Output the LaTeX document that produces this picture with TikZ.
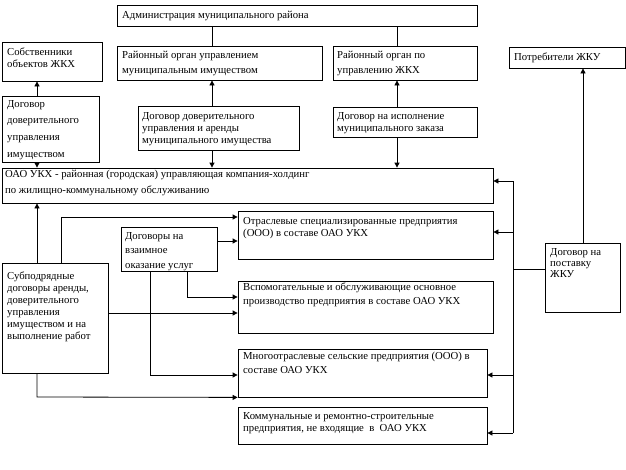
\documentclass[tikz,border=0pt]{standalone}
\usepackage{fontspec}
\setmainfont{Liberation Serif}
\usetikzlibrary{arrows.meta,fit}
\tikzset{
  box/.style={draw, line width=0.8pt, inner sep=0pt},
  txt/.style={inner sep=0pt, anchor=north west, align=left},
  fs/.style={font=\fontsize{10.7}{#1}\selectfont},
  ln/.style={line width=0.8pt},
  arr/.style={line width=0.8pt, -{Triangle[length=5pt,width=5pt]}},
}
\begin{document}
\begin{tikzpicture}[x=1pt,y=-1pt]
\useasboundingbox (0,0) rectangle (626,469);
% boxes
\node[box, fit={(117,5)(477,26)}] (adm) {};
\node[box, fit={(2,42)(102,81)}] (sob) {};
\node[box, fit={(117,46)(322,80)}] (rum) {};
\node[box, fit={(333,46)(477,80)}] (rzh) {};
\node[box, fit={(509,47)(625,68)}] (pot) {};
\node[box, fit={(2,96)(99,162)}] (ddl) {};
\node[box, fit={(138,106)(299,150)}] (dda) {};
\node[box, fit={(333,107)(477,137)}] (dim) {};
\node[box, fit={(2,168)(493,203)}] (oao) {};
\node[box, fit={(238,211)(493,259)}] (otr) {};
\node[box, fit={(121,227)(217,271)}] (dvz) {};
\node[box, fit={(2,263)(108,373)}] (sub) {};
\node[box, fit={(238,281)(493,333)}] (vsp) {};
\node[box, fit={(238,349)(487,397)}] (mno) {};
\node[box, fit={(238,407)(487,444)}] (kom) {};
\node[box, fit={(545,243)(620,312)}] (dpz) {};
% texts
\node[txt, fs=12] (adm-t) at (122,11) {Администрация муниципального района};
\node[txt, fs=12] (sob-t) at (7,47.5) {Собственники\\объектов ЖКХ};
\node[txt, fs=15] (rum-t) at (122,51) {Районный орган управлением\\муниципальным имуществом};
\node[txt, fs=15] (rzh-t) at (337,51) {Районный орган по\\управлению ЖКХ};
\node[txt, fs=12] (pot-t) at (514,52.5) {Потребители ЖКУ};
\node[txt, fs=16.7] (ddl-t) at (7,100) {Договор\\доверительного\\управления\\имуществом};
\node[txt, fs=12] (dda-t) at (142,112) {Договор доверительного\\управления и аренды\\муниципального имущества};
\node[txt, fs=12] (dim-t) at (337,112) {Договор на исполнение\\муниципального заказа};
\node[txt, fs=16] (oao-t) at (5,170) {ОАО УКХ - районная (городская) управляющая компания-холдинг\\по жилищно-коммунальному обслуживанию};
\node[txt, fs=12] (otr-t) at (243,217) {Отраслевые специализированные предприятия\\(ООО) в составе ОАО УКХ};
\node[txt, fs=14.5] (dvz-t) at (125,232) {Договоры на\\взаимное\\оказание услуг};
\node[txt, fs=12] (sub-t) at (7,272) {Субподрядные\\договоры аренды,\\доверительного\\управления\\имуществом и на\\выполнение работ};
\node[txt, fs=14] (vsp-t) at (243,283) {Вспомогательные и обслуживающие основное\\производство предприятия в составе ОАО УКХ};
\node[txt, fs=14] (mno-t) at (243,352) {Многоотраслевые сельские предприятия (ООО) в\\составе ОАО УКХ};
\node[txt, fs=12] (kom-t) at (243,412) {Коммунальные и ремонтно-строительные\\предприятия, не входящие\ \ в\ \ ОАО УКХ};
\node[txt, fs=11] (dpz-t) at (550,248) {Договор на\\поставку\\ЖКУ};
% connectors
\draw[ln] (adm.south -| 212,0) -- (rum.north -| 212,0);
\draw[ln] (adm.south -| 397,0) -- (rzh.north -| 397,0);
\draw[arr] (ddl.north -| 37,0) -- (sob.south -| 37,0);
\draw[arr] (ddl.south -| 37,0) -- (oao.north -| 37,0);
\draw[arr] (dda.north -| 212,0) -- (rum.south -| 212,0);
\draw[arr] (dda.south -| 212,0) -- (oao.north -| 212,0);
\draw[arr] (dim.north -| 397,0) -- (rzh.south -| 397,0);
\draw[arr] (dim.south -| 397,0) -- (oao.north -| 397,0);
\draw[arr] (dpz.north -| 583,0) -- (pot.south -| 583,0);
\coordinate (jn) at (513,269);
\coordinate (jtop) at (513,181);
\coordinate (jbot) at (513,433);
\draw[ln] (dpz.west |- jn) -- (jn);
\draw[ln] (jtop) -- (jbot);
\draw[arr] (jtop) -- (oao.east |- jtop);
\draw[arr] (513,232) -- (otr.east |- 0,232);
\draw[arr] (513,375) -- (mno.east |- 0,375);
\draw[arr] (jbot) -- (kom.east |- jbot);
\draw[arr] (sub.north -| 37,0) -- (oao.south -| 37,0);
\draw[arr] (sub.north -| 61,0) -- (61,217) -- (otr.west |- 0,217);
\draw[arr] (dvz.east |- 0,241) -- (otr.west |- 0,241);
\draw[arr] (dvz.south -| 187,0) -- (187,297) -- (vsp.west |- 0,297);
\draw[arr] (sub.east |- 0,313) -- (vsp.west |- 0,313);
\draw[arr] (dvz.south -| 150,0) -- (150,375) -- (mno.west |- 0,375);
\draw[arr] (sub.south -| 37,0) -- (37,397) -- (mno.south west);
\end{tikzpicture}
\end{document}
